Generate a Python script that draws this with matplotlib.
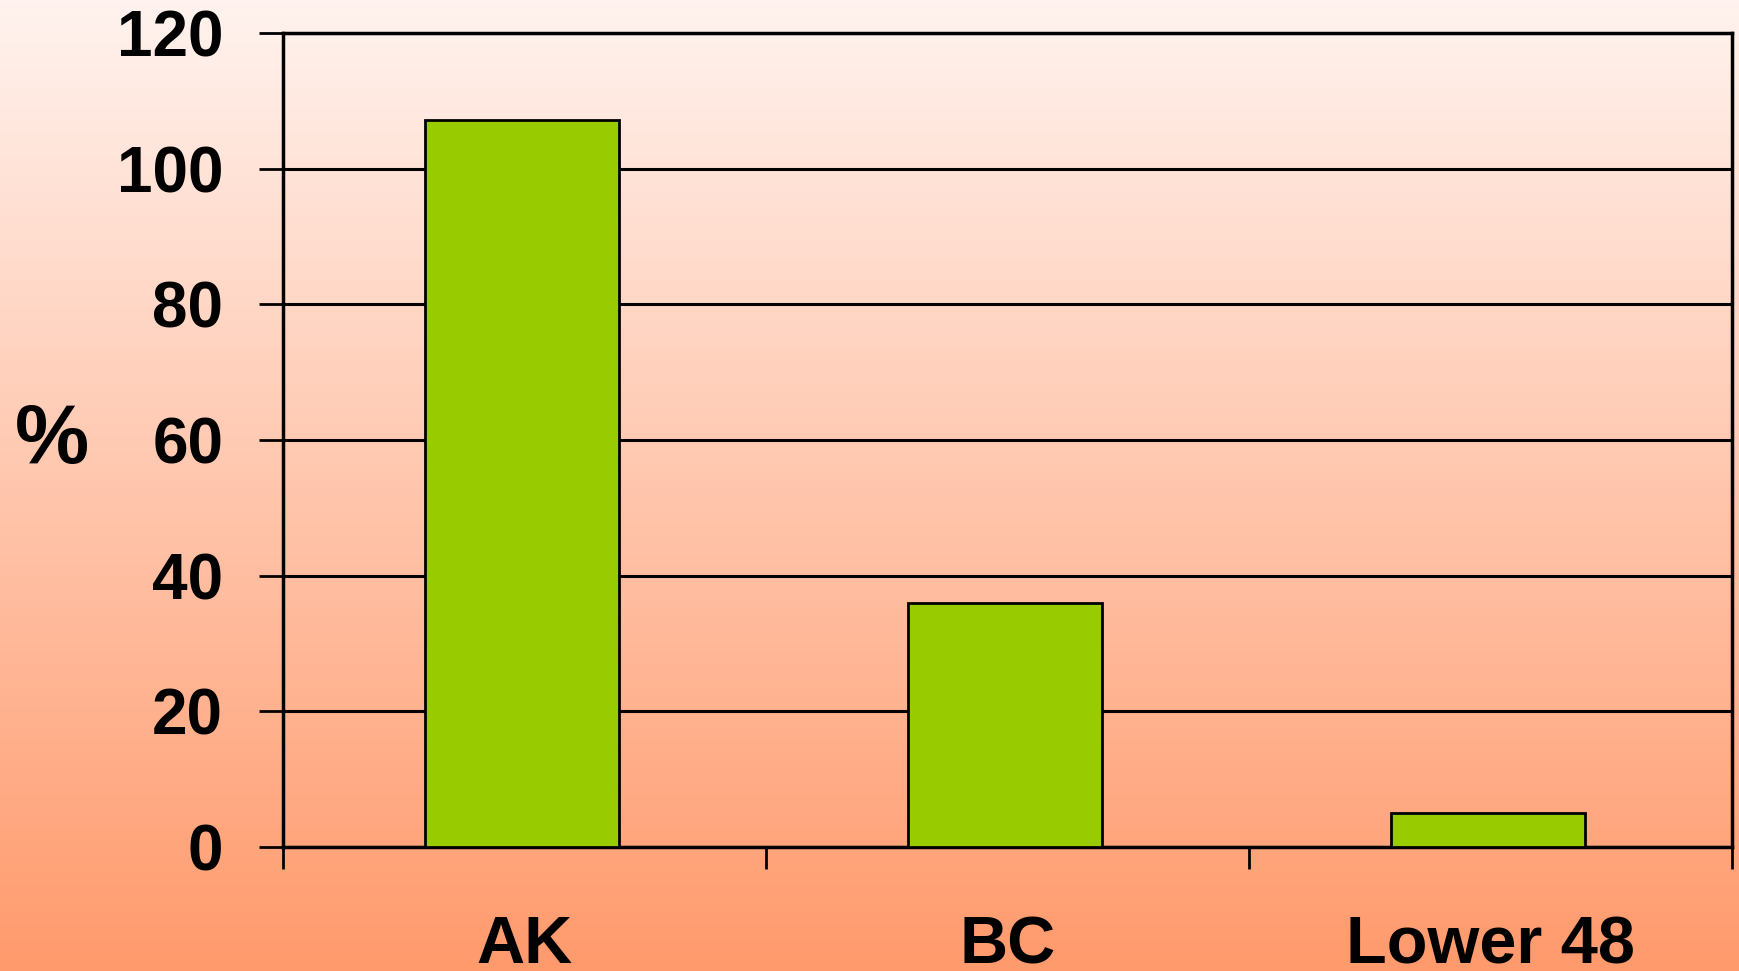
import numpy as np
import matplotlib
matplotlib.use('Agg')  # Headless backend
import matplotlib.pyplot as plt
from matplotlib.colors import LinearSegmentedColormap

# Data
categories = ['AK', 'BC', 'Lower 48']
values = [107.2, 36.0, 5.0]
y_ticks = [0, 20, 40, 60, 80, 100, 120]

plt.rcParams['font.family'] = ['Liberation Sans', 'DejaVu Sans']
plt.rcParams['font.weight'] = 'bold'

fig = plt.figure(figsize=(17.4, 9.71), dpi=100)

# Background gradient (light pink at top -> orange at bottom)
bg = fig.add_axes([0, 0, 1, 1], zorder=-10)
cmap = LinearSegmentedColormap.from_list('bg', ['#FFF3EF', '#FF9A6C'])
grad = np.linspace(0, 1, 256).reshape(-1, 1)
bg.imshow(grad, aspect='auto', cmap=cmap, extent=[0, 1, 0, 1], origin='upper')
bg.axis('off')

ax = fig.add_axes([0.1626, 0.1277, 0.8328, 0.8383])
ax.patch.set_alpha(0)

x = np.arange(len(categories))
ax.bar(x - 0.005, values, width=0.4, color='#99CC00', edgecolor='black', linewidth=2, zorder=3)

ax.set_xlim(-0.5, len(categories) - 0.5)
ax.set_ylim(0, 120)
ax.set_yticks(y_ticks)
ax.yaxis.grid(True, color='black', linewidth=2.2, zorder=1)
ax.set_axisbelow(True)

ax.set_xticks(x)
ax.set_xticklabels(categories)
ax.set_xticks(np.arange(len(categories) + 1) - 0.5, minor=True)
ax.tick_params(axis='x', which='major', length=0, pad=49, labelsize=48)
ax.tick_params(axis='x', which='minor', length=16, width=2, direction='out')
ax.tick_params(axis='y', length=17, width=2, direction='out', pad=26, labelsize=46)

for side in ['left', 'right', 'top', 'bottom']:
    ax.spines[side].set_linewidth(2.5)
    ax.spines[side].set_color('black')

fig.text(0.030, 0.546, '%', fontsize=60, fontweight='bold', ha='center', va='center')

plt.savefig('out.png', dpi=100)
plt.close()
